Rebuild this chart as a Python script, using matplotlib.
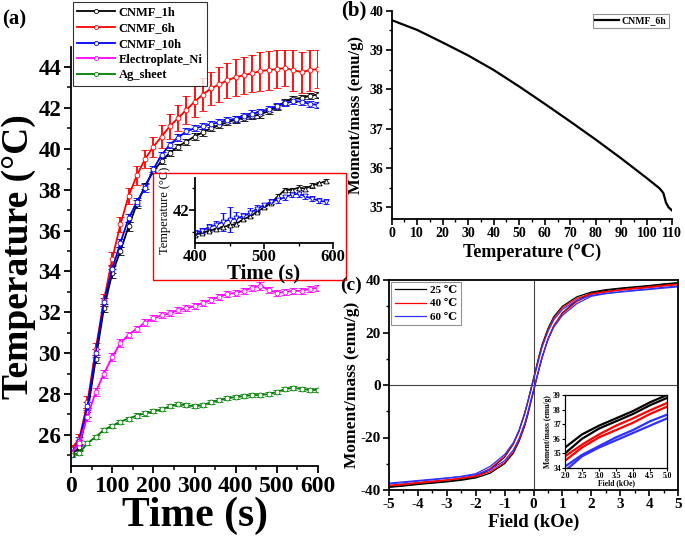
import numpy as np
import matplotlib
matplotlib.use('Agg')
import matplotlib.pyplot as plt
from matplotlib.lines import Line2D
from matplotlib.patches import Rectangle

plt.rcParams['font.family'] = ['Liberation Serif', 'DejaVu Serif']
plt.rcParams['font.weight'] = 'bold'
plt.rcParams['axes.labelweight'] = 'bold'
plt.rcParams['axes.unicode_minus'] = False
plt.rcParams['axes.linewidth'] = 1.3

# ---- (a) heating curves, sampled every 20 s ----
time_s = np.arange(0, 601, 20)
cnmf_1h = [25.0, 25.4, 27.1, 29.7, 32.2, 33.9, 35.0, 36.2, 37.3, 38.2, 38.9, 39.4, 39.8, 40.1, 40.35, 40.6,
           40.8, 41.0, 41.15, 41.3, 41.43, 41.52, 41.6, 41.68, 41.85, 42.05, 42.3, 42.45, 42.48, 42.6, 42.65]
cnmf_6h = [25.3, 25.8, 27.6, 30.2, 32.6, 34.6, 36.3, 37.7, 38.7, 39.5, 40.1, 40.6, 41.1, 41.5, 41.9, 42.3,
           42.65, 42.95, 43.15, 43.35, 43.5, 43.6, 43.7, 43.8, 43.85, 43.9, 43.95, 43.85, 43.75, 43.85, 43.9]
cnmf_10h = [25.1, 25.7, 27.4, 30.0, 32.5, 34.1, 35.4, 36.6, 37.4, 38.1, 39.0, 39.7, 40.2, 40.55, 40.85, 41.0,
            41.1, 41.2, 41.3, 41.4, 41.47, 41.6, 41.72, 41.8, 41.93, 42.1, 42.22, 42.34, 42.3, 42.2, 42.15]
electro_ni = [25.1, 25.6, 26.9, 28.1, 29.0, 29.8, 30.5, 30.9, 31.2, 31.5, 31.7, 31.85, 31.95, 32.1, 32.2, 32.3,
              32.45, 32.6, 32.75, 32.9, 32.95, 33.05, 33.2, 33.3, 33.1, 32.95, 33.0, 33.05, 33.05, 33.15, 33.2]
ag_sheet = [25.0, 25.1, 25.6, 25.9, 26.25, 26.45, 26.65, 26.8, 26.95, 27.05, 27.15, 27.25, 27.4, 27.5, 27.45, 27.4,
            27.45, 27.6, 27.7, 27.8, 27.85, 27.9, 27.95, 27.95, 28.0, 28.1, 28.25, 28.3, 28.25, 28.2, 28.2]

err_1h = [0.1, 0.15, 0.2, 0.2, 0.2, 0.2, 0.2, 0.2, 0.2, 0.15, 0.15, 0.15, 0.15, 0.15, 0.15, 0.15,
          0.15, 0.15, 0.15, 0.15, 0.15, 0.15, 0.15, 0.15, 0.15, 0.15, 0.15, 0.15, 0.15, 0.15, 0.15]
err_6h = [0.2, 0.25, 0.3, 0.3, 0.3, 0.35, 0.35, 0.4, 0.45, 0.45, 0.5, 0.55, 0.6, 0.65, 0.7, 0.75,
          0.8, 0.8, 0.85, 0.85, 0.9, 0.9, 0.9, 0.95, 0.95, 0.95, 0.9, 1.0, 1.0, 1.0, 0.95]
err_10h = [0.15, 0.2, 0.2, 0.2, 0.2, 0.2, 0.2, 0.2, 0.2, 0.2, 0.15, 0.15, 0.15, 0.15, 0.15, 0.15,
           0.15, 0.15, 0.15, 0.15, 0.15, 0.15, 0.2, 0.15, 0.15, 0.15, 0.15, 0.15, 0.15, 0.15, 0.15]
err_ni = [0.1, 0.15, 0.2, 0.2, 0.2, 0.2, 0.2, 0.15, 0.15, 0.15, 0.15, 0.15, 0.15, 0.15, 0.15, 0.15,
          0.15, 0.15, 0.15, 0.15, 0.15, 0.15, 0.15, 0.2, 0.15, 0.15, 0.15, 0.15, 0.15, 0.15, 0.15]
err_ag = [0.1, 0.1, 0.1, 0.1, 0.1, 0.1, 0.1, 0.1, 0.1, 0.1, 0.1, 0.1, 0.1, 0.1, 0.1, 0.1,
          0.1, 0.1, 0.1, 0.1, 0.1, 0.1, 0.1, 0.1, 0.1, 0.1, 0.1, 0.1, 0.1, 0.1, 0.1]

series_names = ['CNMF_1h', 'CNMF_6h', 'CNMF_10h', 'Electroplate_Ni', 'Ag_sheet']
series_colors = ['black', 'red', 'blue', 'magenta', 'green']

# inset of (a), every 10 s
inset_t = np.arange(400, 591, 10)
inset_1h = [41.43, 41.47, 41.52, 41.55, 41.6, 41.64, 41.68, 41.78, 41.85, 41.95, 42.05, 42.15, 42.3, 42.45,
            42.45, 42.5, 42.48, 42.55, 42.6, 42.65]
inset_10h = [41.47, 41.52, 41.6, 41.65, 41.72, 41.77, 41.8, 41.85, 41.93, 42.02, 42.1, 42.18, 42.22, 42.28,
             42.34, 42.36, 42.3, 42.25, 42.2, 42.18]
inset_err_1h = [0.03, 0.03, 0.03, 0.03, 0.03, 0.03, 0.03, 0.03, 0.03, 0.03, 0.03, 0.03, 0.05, 0.05,
                0.05, 0.05, 0.05, 0.05, 0.04, 0.04]
inset_err_10h = [0.06, 0.06, 0.08, 0.08, 0.2, 0.28, 0.15, 0.08, 0.1, 0.08, 0.06, 0.06, 0.06, 0.06,
                 0.06, 0.08, 0.06, 0.06, 0.06, 0.06]

# ---- (b) M vs T ----
temp_c = [0, 10, 20, 30, 40, 50, 60, 70, 80, 90, 100, 105, 106.5, 107.5, 108.5, 110]
moment_t = [39.76, 39.51, 39.19, 38.86, 38.49, 38.07, 37.63, 37.18, 36.72, 36.24, 35.74, 35.48, 35.36,
            35.12, 35.0, 34.91]

# ---- (c) hysteresis, descending branch (ascending branch drawn mirrored) ----
field = [5, 4.5, 4, 3.5, 3, 2.5, 2, 1.5, 1, 0.7, 0.5, 0.3, 0.2, 0.1, 0, -0.1, -0.2, -0.3, -0.5, -0.7,
         -1, -1.5, -2, -2.5, -3, -3.5, -4, -4.5, -5]
m_25 = [39.0, 38.5, 37.9, 37.4, 36.9, 36.3, 35.4, 33.6, 30.0, 26.0, 21.5, 15.5, 11.5, 7.0, 2.5, -2.0, -6.5,
        -10.5, -17.5, -22.5, -27.5, -32.2, -35.0, -36.0, -36.7, -37.2, -37.7, -38.3, -38.8]
m_40 = [38.45, 37.95, 37.4, 36.9, 36.3, 35.6, 34.8, 33.0, 29.5, 25.5, 21.0, 15.0, 11.0, 6.5, 2.2, -2.2, -6.5,
        -10.5, -17.5, -22.5, -27.2, -31.8, -34.5, -35.4, -36.1, -36.6, -37.1, -37.7, -38.2]
m_60 = [37.65, 37.2, 36.6, 36.1, 35.5, 34.9, 34.1, 32.3, 28.8, 24.8, 20.4, 14.5, 10.5, 6.2, 2.0, -2.3, -6.5,
        -10.8, -17.2, -22.0, -26.5, -31.0, -33.8, -34.8, -35.4, -35.9, -36.4, -36.9, -37.4]
loop_labels = ['25 \u2103', '40 \u2103', '60 \u2103']
loop_colors = ['black', 'red', '#3030ff']

W, H = 685, 536


def rect(x0, y0, x1, y1):
    return [x0 / W, 1 - y1 / H, (x1 - x0) / W, (y1 - y0) / H]


fig = plt.figure(figsize=(W / 100, H / 100), dpi=100)

# ================= panel (a) =================
axa = fig.add_axes(rect(71, 47, 318, 466))
ys = [cnmf_1h, cnmf_6h, cnmf_10h, electro_ni, ag_sheet]
es = [err_1h, err_6h, err_10h, err_ni, err_ag]
for y, e, c in zip(ys, es, series_colors):
    axa.errorbar(time_s, y, yerr=e, color=c, marker='o', ms=3.5, mfc='white', mec=c, mew=0.6,
                 lw=1.3, elinewidth=1.3, capsize=3, capthick=1.3)
axa.set_xlim(0, 600)
axa.set_ylim(24.48, 44.98)
axa.spines['top'].set_visible(False)
axa.spines['right'].set_visible(False)
axa.set_xticks(range(0, 601, 100))
axa.set_xticks(range(50, 600, 100), minor=True)
axa.set_yticks(range(26, 45, 2))
axa.set_yticks(range(25, 45, 2), minor=True)
axa.tick_params(which='major', length=5, width=1.3, direction='out', pad=2)
axa.tick_params(which='minor', length=3, width=1.1, direction='out')
axa.tick_params(axis='x', labelsize=17)
axa.tick_params(axis='y', labelsize=16.5)
axa.set_xlabel('Time (s)', fontsize=30, labelpad=0)
axa.set_ylabel('Temperature (\u00b0C)', fontsize=27, va='center')
axa.yaxis.set_label_coords((19 - 71) / 247, 0.5)

handles = [Line2D([], [], color=c, lw=1.3, marker='o', ms=3, mfc='white', mec=c, mew=0.6)
           for c in series_colors]
leg = axa.legend(handles, series_names, loc='upper left', bbox_to_anchor=(73 / W, 1 - 2 / H),
                 bbox_transform=fig.transFigure, fontsize=9, fancybox=False, edgecolor='black',
                 borderpad=0.35, labelspacing=0.3, handlelength=3.0, handletextpad=0.3, borderaxespad=0)
leg.get_frame().set_linewidth(0.8)

# red box and inset
fig.add_artist(Rectangle((153 / W, 1 - 280 / H), (346 - 153) / W, (280 - 173) / H,
                         transform=fig.transFigure, fc='white', ec='red', lw=1.0, zorder=1))
axi = fig.add_axes(rect(195, 178, 333, 243), zorder=2)
axi.patch.set_alpha(0)
axi.errorbar(inset_t, inset_1h, yerr=inset_err_1h, color='black', marker='^', ms=3.5, mfc='white',
             mec='black', mew=0.6, lw=1.2, elinewidth=1.0, capsize=2.5)
axi.errorbar(inset_t, inset_10h, yerr=inset_err_10h, color='blue', marker='v', ms=3.5, mfc='white',
             mec='blue', mew=0.6, lw=1.2, elinewidth=1.0, capsize=2.5)
axi.set_xlim(400, 600)
axi.set_ylim(41.24, 42.72)
axi.spines['top'].set_visible(False)
axi.spines['right'].set_visible(False)
axi.set_xticks([400, 500, 600])
axi.set_xticks([450, 550], minor=True)
axi.set_yticks([42])
axi.set_yticks([41.5, 42.5], minor=True)
axi.tick_params(which='major', length=4, width=1.2, labelsize=12, pad=0)
axi.tick_params(which='minor', length=2.5, width=1.0)
axi.set_xlabel('Time (s)', fontsize=15, labelpad=-1)
axi.set_ylabel('Temperature (\u00b0C)', fontsize=9, fontweight='normal', labelpad=1)

fig.text(2 / W, 1 - 19 / H, '(a)', fontsize=15, va='center', ha='left')

# ================= panel (b) =================
axb = fig.add_axes(rect(391.7, 10.7, 672.3, 219))
axb.plot(temp_c, moment_t, color='black', lw=1.6, label='CNMF_6h')
axb.set_xlim(0, 110)
axb.set_ylim(34.70, 40)
axb.spines['top'].set_visible(False)
axb.spines['right'].set_visible(False)
axb.set_xticks(range(0, 111, 10))
axb.set_xticks(range(5, 110, 10), minor=True)
axb.set_yticks(range(35, 41))
axb.set_yticks(np.arange(35.5, 40, 1), minor=True)
axb.tick_params(which='major', length=4, width=1.2, labelsize=10, direction='out', pad=2)
axb.tick_params(which='minor', length=2.5, width=1.0, direction='out')
axb.set_xlabel('Temperature (\u2103)', fontsize=13, labelpad=2)
axb.set_ylabel('Moment/mass (emu/g)', fontsize=12, labelpad=4)
lb = axb.legend(loc='upper right', fontsize=7, fancybox=False, edgecolor='#777777',
                handlelength=2.4, handletextpad=0.3, borderpad=0.3, borderaxespad=0.3)
lb.get_frame().set_linewidth(0.8)
fig.text(341 / W, 1 - 10 / H, '(b)', fontsize=15, va='center', ha='left')

# ================= panel (c) =================
axc = fig.add_axes(rect(389, 280, 678, 490))
for m, c, lab in zip([m_25, m_40, m_60], loop_colors, loop_labels):
    axc.plot(field, m, color=c, lw=0.9, label=lab)
    axc.plot(-np.array(field), -np.array(m), color=c, lw=0.9)
axc.axhline(0, color='#444444', lw=0.8, zorder=0)
axc.axvline(0, color='#444444', lw=0.8, zorder=0)
axc.set_xlim(-5, 5)
axc.set_ylim(-40, 40)
axc.set_xticks(range(-5, 6))
axc.set_xticks(np.arange(-4.5, 5, 1), minor=True)
axc.set_yticks([-40, -20, 0, 20, 40])
axc.set_yticks([-30, -10, 10, 30], minor=True)
axc.tick_params(which='major', length=4, width=1.2, labelsize=11, direction='out', pad=2)
axc.tick_params(which='minor', length=2.5, width=1.0, direction='out')
axc.set_xlabel('Field (kOe)', fontsize=13.5, labelpad=2)
axc.set_ylabel('Moment/mass (emu/g)', fontsize=12.5, labelpad=0)
lc = axc.legend(loc='upper left', fontsize=8, fancybox=False, edgecolor='#777777',
                handlelength=2.8, handletextpad=0.4, borderpad=0.3, labelspacing=0.3, borderaxespad=0.2)
lc.get_frame().set_linewidth(0.8)
fig.text(340 / W, 1 - 285 / H, '(c)', fontsize=14, va='center', ha='left')

axc_in = fig.add_axes(rect(565, 395, 667, 468))
for m, c in zip([m_25, m_40, m_60], loop_colors):
    axc_in.plot(field, m, color=c, lw=1.6)
    axc_in.plot(-np.array(field), -np.array(m), color=c, lw=1.6)
axc_in.set_xlim(2, 5)
axc_in.set_ylim(34, 39)
axc_in.set_xticks(np.arange(2, 5.01, 0.5))
axc_in.set_xticklabels(['%.1f' % v for v in np.arange(2, 5.01, 0.5)])
axc_in.set_yticks(range(34, 40))
axc_in.tick_params(which='major', length=2, width=0.8, labelsize=5.5, pad=1)
axc_in.set_xlabel('Field (kOe)', fontsize=5.5, labelpad=-1)
axc_in.set_ylabel('Moment/mass (emu/g)', fontsize=5.5, labelpad=1)
for s in axc_in.spines.values():
    s.set_linewidth(0.9)

fig.savefig('out.png', dpi=100)
